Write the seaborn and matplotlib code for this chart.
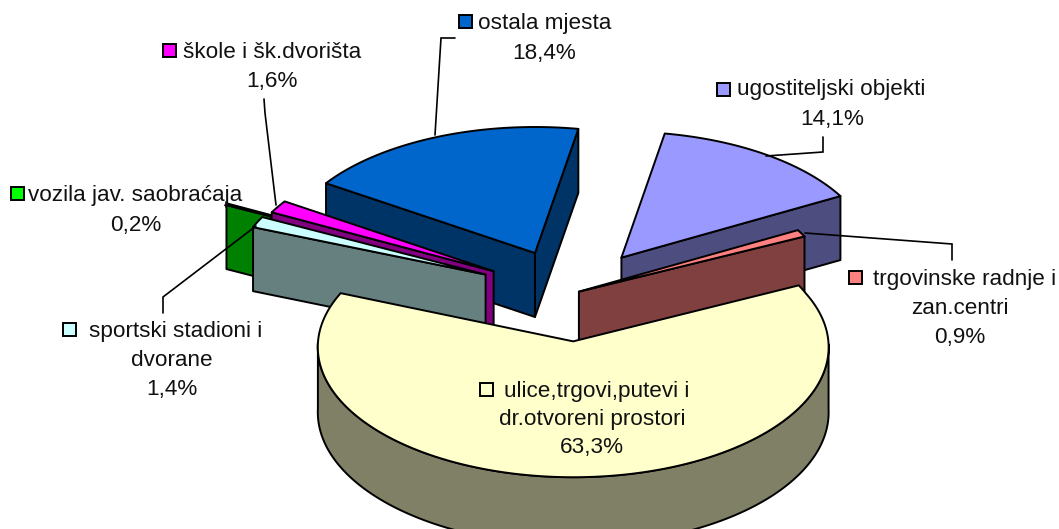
import numpy as np
import matplotlib
matplotlib.use("Agg")
import matplotlib.pyplot as plt
from matplotlib.patches import Polygon, Rectangle
import seaborn as sns

# counter-clockwise from the right edge of the big slice
categories = [
    "trgovinske radnje i\nzan.centri",
    "ugostiteljski objekti",
    "ostala mjesta",
    "škole i šk.dvorišta",
    "vozila jav. saobraćaja",
    "sportski stadioni i\ndvorane",
    "ulice,trgovi,putevi i\ndr.otvoreni prostori",
]
values = [0.9, 14.1, 18.4, 1.6, 0.2, 1.4, 63.3]
value_labels = ["0,9%", "14,1%", "18,4%", "1,6%", "0,2%", "1,4%", "63,3%"]
top_colors = ["#FF8080", "#9999FF", "#0066CC", "#FF00FF", "#00FF00", "#CCFFFF", "#FFFFCC"]

# pie shape
explode = [0.04, 0.354, 0.354, 0.354, 0.54, 0.37, 0.37]
draw_order = [1, 2, 4, 3, 5, 0, 6]
start_angle = 26.0
center = (570.0, 294.0)
radius = (251.0, 126.0)
depth = 64.0
front_stretch = 0.045

# label layout in pixels: key left, key top, first line centre x, other lines centre x, first line y, line step
label_pos = {
    0: (849, 271, 965, 960, 279, 29),
    1: (717, 83, 831, 832, 90, 29),
    2: (459, 15, 545, 544, 23, 30.5),
    3: (163, 44, 272, 272, 52, 29),
    4: (11, 187, 135, 136, 195, 30),
    5: (63, 323, 176, 172, 331, 29),
    6: (480, 383, 597, 592, 391, 28.5),
}
leaders = [
    [(952, 260), (952, 244), (805, 233)],
    [(823, 137), (823, 152), (766, 156)],
    [(455, 38), (441, 38), (435, 135)],
    [(264, 99), (265, 113), (276, 205)],
    [(226, 202), (226, 207)],
    [(163, 313), (163, 297), (256, 226)],
]


def project(u, v):
    s = 1 + front_stretch * np.maximum(-v, 0)
    return center[0] + radius[0] * u * s, center[1] - radius[1] * v * s, depth * s


def outline(bis, e, t):
    u = e * np.cos(bis) + np.cos(t)
    v = e * np.sin(bis) + np.sin(t)
    return u, v


sns.set_theme(style="white")
plt.rcParams["font.family"] = ["Liberation Sans", "DejaVu Sans"]
palette = sns.color_palette(top_colors)

fig = plt.figure(figsize=(10.59, 5.29), dpi=100)
ax = fig.add_axes([0, 0, 1, 1])
ax.set_xlim(0, 1059)
ax.set_ylim(529, 0)
ax.axis("off")

spans = np.array(values) / sum(values) * 360
ends = start_angle + np.cumsum(spans)
starts = ends - spans
lw = 1.4


def wall(pts_top, color):
    x = [p[0] for p in pts_top]
    y = [p[1] for p in pts_top]
    d = [p[2] for p in pts_top]
    xy = list(zip(x, y)) + list(zip(x[::-1], [a + b for a, b in zip(y[::-1], d[::-1])]))
    ax.add_patch(Polygon(xy, closed=True, fc=color, ec="black", lw=lw, joinstyle="round"))


for i in draw_order:
    a, b = np.radians(starts[i]), np.radians(ends[i])
    bis = (a + b) / 2
    e = explode[i]
    side = tuple(c * 0.5 for c in palette[i])
    apex = project(e * np.cos(bis), e * np.sin(bis))
    ts = np.linspace(a, b, 160)

    # radial faces, only where they turn towards the viewer
    if np.cos(b) < 0:
        wall([apex, project(*outline(bis, e, b))], side)
    if np.cos(a) > 0:
        wall([apex, project(*outline(bis, e, a))], side)

    # outer wall on the near half of the rim
    near = ts[np.sin(ts) < 0]
    if len(near) > 1:
        wall([project(*outline(bis, e, t)) for t in near], side)

    rim = [project(*outline(bis, e, t))[:2] for t in ts]
    ax.add_patch(Polygon([apex[:2]] + rim, closed=True, fc=palette[i], ec="black", lw=lw, joinstyle="round"))

for line in leaders:
    ax.plot([p[0] for p in line], [p[1] for p in line], color="black", lw=1.2, solid_joinstyle="miter")

for i, cat in enumerate(categories):
    kx, ky, x1, x2, ty, step = label_pos[i]
    ax.add_patch(Rectangle((kx, ky), 13, 13, fc=palette[i], ec="black", lw=1.4))
    for j, text in enumerate(cat.split("\n") + [value_labels[i]]):
        ax.text(x1 if j == 0 else x2, ty + j * step, text, ha="center", va="center",
                fontsize=16.2, color="#111111")

fig.savefig("out.png", dpi=100)
